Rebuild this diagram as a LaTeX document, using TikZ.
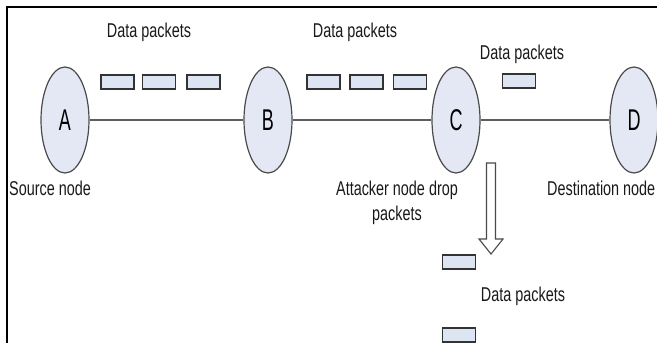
\documentclass[tikz,border=0pt]{standalone}
\usepackage{fontspec}
\usetikzlibrary{shapes.geometric,calc}
\setmainfont{Liberation Sans}
\newfontfamily\lblfont[FakeStretch=0.72]{Liberation Sans}
\newfontfamily\letfont[FakeStretch=0.6]{Liberation Sans}
\definecolor{nodefill}{HTML}{E4E8F4}
\definecolor{nodeline}{HTML}{4A4A4A}
\definecolor{pktfill}{HTML}{DDE4F2}
\definecolor{pktline}{HTML}{333333}
\definecolor{linkline}{HTML}{5E5E5E}
\begin{document}
\begin{tikzpicture}[x=1pt,y=-1pt,
  netnode/.style={ellipse,draw=nodeline,line width=1.2pt,fill=nodefill,minimum width=48pt,minimum height=106pt,inner sep=0pt,font=\letfont\fontsize{30}{32}\selectfont},
  packet/.style={rectangle,draw=pktline,line width=1.2pt,fill=pktfill,minimum width=33pt,minimum height=14pt,inner sep=0pt},
  lbl/.style={font=\lblfont\fontsize{20}{25}\selectfont,inner sep=0pt,text=black!90,align=center},
  link/.style={draw=linkline,line width=1.8pt}]
\useasboundingbox (0,0) rectangle (657,343);
\draw[line width=2.2pt] (6,7) -- (657,7);
\draw[line width=2.2pt] (7,6) -- (7,343);
% nodes
\node[netnode] (A) at (65,120) {A};
\node[netnode] (B) at (268,120) {B};
\node[netnode] (C) at (456,120) {C};
\node[netnode] (D) at (634,120) {D};
\draw[link] (A) -- (B);
\draw[link] (B) -- (C);
\draw[link] (C) -- (D);
% packets
\node[packet] (p1) at (117.5,82) {};
\node[packet] (p2) at (159,82) {};
\node[packet] (p3) at (203.5,82) {};
\node[packet] (p4) at (323.5,82) {};
\node[packet] (p5) at (366.5,82) {};
\node[packet] (p6) at (410,82) {};
\node[packet] (p7) at (519,81) {};
\node[packet] (p8) at (459,262) {};
\node[packet] (p9) at (459,335) {};
% labels
\node[lbl] (l1) at (149,32) {Data packets};
\node[lbl] (l2) at (355,32) {Data packets};
\node[lbl] (l3) at (522,54) {Data packets};
\node[lbl] (l4) at (523,296) {Data packets};
\node[lbl] (src) at (50,188) {Source node};
\node[lbl,anchor=west] (dst) at (547,188) {Destination node};
\node[lbl] (att) at (397,203) {Attacker node drop\\packets};
% hollow arrow
\coordinate (arrtop) at (491,163);
\coordinate (arrtip) at (491,254);
\draw[draw=nodeline,line width=1.1pt,fill=white]
  ($(arrtop)+(-4.5,0)$) -- ($(arrtop)+(4.5,0)$) -- ($(arrtip)+(4.5,-15)$) -- ($(arrtip)+(12,-15)$) -- (arrtip) -- ($(arrtip)+(-12,-15)$) -- ($(arrtip)+(-4.5,-15)$) -- cycle;
\end{tikzpicture}
\end{document}
